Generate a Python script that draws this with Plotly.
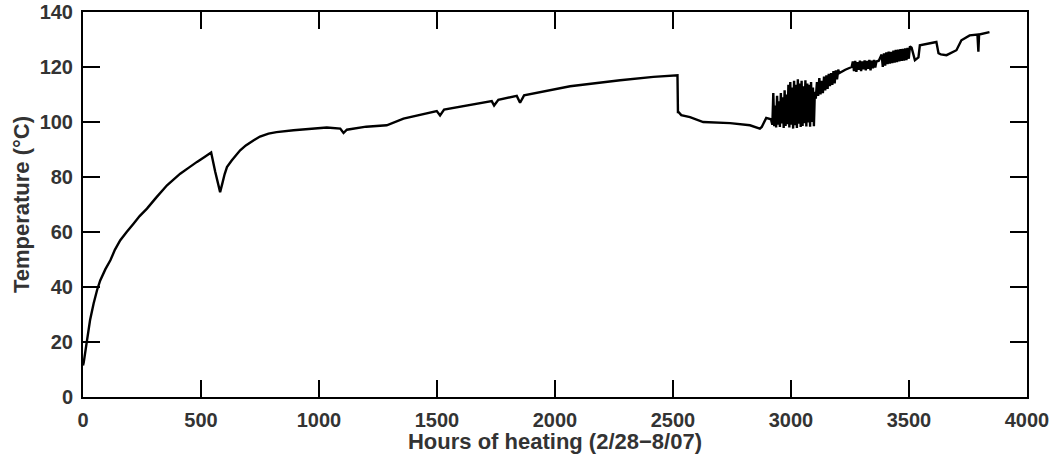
import plotly.graph_objects as go

# Temperature record (hours of heating, temperature in degC)
hours = [0, 3, 17, 30, 45, 60, 73, 95, 116, 135, 158, 185, 214, 240, 271, 310, 356, 412, 450,
         483, 515, 543, 560, 581, 590, 600, 610, 630, 666, 690, 722, 750, 786, 820, 892, 1033,
         1090, 1104, 1118, 1200, 1287, 1358, 1499, 1513, 1530, 1732, 1742, 1760, 1838, 1852,
         1869, 2064, 2276, 2417, 2519, 2521, 2524, 2535, 2572, 2628, 2742, 2826, 2868, 2876,
         2895, 2915, 2921,
         # strongly fluctuating period
         2925, 2929, 2933, 2937, 2941, 2945, 2949, 2953, 2957, 2961, 2965, 2969, 2973, 2977,
         2981, 2985, 2989, 2993, 2997, 3001, 3005, 3009, 3013, 3017, 3021, 3025, 3029, 3033,
         3037, 3041, 3045, 3049, 3053, 3057, 3061, 3065, 3069, 3073, 3077, 3081, 3085, 3089,
         3093, 3097, 3101,
         3105, 3110, 3115, 3120, 3125, 3130, 3135, 3140, 3145, 3150, 3155, 3160, 3165, 3170,
         3175, 3180, 3185, 3190, 3195, 3200, 3205, 3230, 3257,
         3262, 3267, 3272, 3277, 3282, 3287, 3292, 3297, 3302, 3307, 3312, 3317, 3322, 3327,
         3332, 3337, 3342, 3347, 3352, 3357, 3362, 3372,
         3384, 3389, 3394, 3399, 3404, 3409, 3414, 3419, 3424, 3429, 3434, 3439, 3444, 3449,
         3454, 3459, 3464, 3469, 3474, 3479, 3484, 3489, 3494, 3499,
         3504, 3511, 3525, 3540, 3546, 3616, 3625, 3635, 3659, 3701, 3722, 3757, 3790, 3794,
         3797, 3841]
temps = [11.5, 12.5, 20.6, 28, 34, 39, 42.4, 46.5, 49.7, 53.5, 57, 60, 63, 65.8, 68.5, 72.5,
         77, 81.2, 83.5, 85.5, 87.3, 88.9, 82, 74.5, 77.5, 81, 83.6, 86, 89.7, 91.5, 93.3, 94.7,
         95.8, 96.3, 97, 98, 97.6, 96, 97.2, 98.3, 98.8, 101.2, 104, 102.4, 104.5, 107.6, 106,
         108.1, 109.5, 107, 109.7, 113, 115.2, 116.4, 117, 103.6, 103.6, 102.5, 101.8, 100,
         99.6, 98.8, 97.6, 98.2, 101.5, 101, 99,
         110.5, 98.5, 106, 98, 109.5, 99, 107.5, 98.2, 110.5, 99.5, 109, 97.8, 111.5, 98.6,
         110, 99.2, 113.5, 98, 114.5, 99, 112.5, 97.6, 115, 98.8, 113.5, 97.8, 115.5, 99.4,
         114, 98.2, 115, 98.6, 113, 99.6, 115.2, 98.4, 114, 99.8, 113.5, 98.3, 114.5, 100,
         112.5, 98.5, 111,
         108.5, 114.5, 109.5, 116, 110, 115, 110.5, 116.5, 111.5, 117, 112, 117.5, 113, 117.8,
         113.5, 118.5, 114, 118.8, 115.5, 119, 117.8, 119, 120,
         122, 118.5, 122.2, 118.2, 121.8, 119, 122.3, 118.5, 122, 119.2, 122.4, 118.8, 122.2,
         119.3, 122.6, 118.8, 122.3, 119.5, 122.6, 119.8, 122, 122.3,
         124.5, 120, 125, 120.5, 125.3, 121, 125.6, 121.2, 125.5, 121.4, 126, 121.6, 126.2,
         121.8, 126.3, 122, 126.5, 122.2, 126.6, 122.3, 126.8, 122.5, 127, 123,
         127.5, 127, 122.5, 123.5, 127.9, 129.1, 125, 124.6, 124.3, 126.1, 129.7, 131.5, 131.8,
         125.6, 131.8, 132.7]

x_ticks = [0, 500, 1000, 1500, 2000, 2500, 3000, 3500, 4000]
y_ticks = [0, 20, 40, 60, 80, 100, 120, 140]

fig = go.Figure()
fig.add_trace(go.Scatter(x=hours, y=temps, mode="lines",
                         line=dict(color="black", width=2.4, simplify=False),
                         showlegend=False))

tick_font = dict(family="Liberation Sans, Arial, sans-serif", size=20, color="#333333",
                 weight="bold")
title_font = dict(family="Liberation Sans, Arial, sans-serif", size=22, color="#333333",
                  weight="bold")
axis_common = dict(showline=True, linecolor="black", linewidth=2, mirror="allticks",
                   ticks="inside", ticklen=17, tickwidth=2, tickcolor="black",
                   showgrid=False, zeroline=False, tickfont=tick_font)

fig.update_xaxes(range=[0, 4000], tickvals=x_ticks, ticklabelstandoff=4,
                 title=dict(text="Hours of heating (2/28\u22128/07)",
                            font=title_font, standoff=1),
                 **axis_common)
fig.update_yaxes(range=[0, 140], tickvals=y_ticks, ticklabelstandoff=4,
                 title=dict(text="Temperature (\u00b0C)", font=title_font, standoff=4),
                 **axis_common)

fig.update_layout(width=1055, height=454, margin=dict(l=83, r=28, t=12, b=57, autoexpand=False),
                  plot_bgcolor="white", paper_bgcolor="white",
                  font=dict(family="Liberation Sans, Arial, sans-serif"))

fig.write_html("out.html")
